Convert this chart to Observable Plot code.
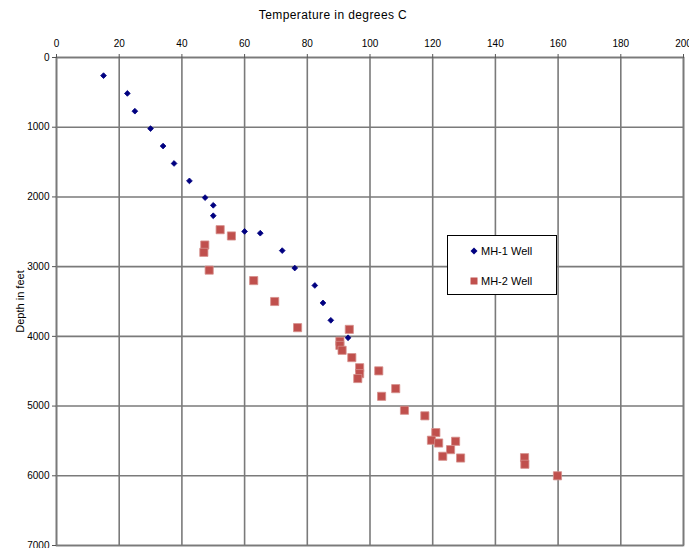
<!DOCTYPE html>
<html>
<head>
<meta charset="utf-8">
<script src="https://cdn.jsdelivr.net/npm/d3@7"></script>
<script src="https://cdn.jsdelivr.net/npm/@observablehq/plot@0.6"></script>
<style>
  html, body { margin: 0; padding: 0; background: #fff; }
  #wrap { position: relative; width: 689px; height: 548px; font-family: "Liberation Sans", Arial, sans-serif; }
  #title { position: absolute; left: 0; width: 666px; top: 8px; text-align: center; font-size: 12px; letter-spacing: 0.4px; color: #000; }
  #legend { position: absolute; left: 447px; top: 235px; width: 108px; height: 58px; border: 1px solid #000; background: #fff; font-size: 11px; color: #000; }
  .item { position: absolute; left: 22px; display: flex; align-items: center; }
  .item svg { margin-right: 3px; }
  svg [aria-label="y-axis label"] text { font-size: 11px; }
</style>
</head>
<body>
<div id="wrap">
  <div id="title">Temperature in degrees C</div>
</div>
<script>
const xTicks = [0, 20, 40, 60, 80, 100, 120, 140, 160, 180, 200];
const yTicks = [0, 1000, 2000, 3000, 4000, 5000, 6000, 7000];

const mh1Temp  = [15, 22.6, 25, 30, 34, 37.5, 42.4, 47.4, 50, 50, 60, 65, 72, 76, 82.4, 85, 87.5, 93];
const mh1Depth = [260, 515, 770, 1020, 1270, 1520, 1770, 2010, 2120, 2270, 2495, 2520, 2770, 3020, 3270, 3520, 3770, 4020];

const mh2Temp  = [52.2, 55.8, 47.3, 47, 48.7, 62.9, 69.6, 76.9, 93.4, 90.4, 90.4, 91.1, 94.2, 96.7, 96.7, 96.1, 102.8, 108.2, 103.7, 111, 117.5, 121, 119.6, 121.9, 127.3, 125.7, 123.2, 128.9, 149.3, 149.4, 159.8];
const mh2Depth = [2470, 2560, 2690, 2795, 3050, 3200, 3500, 3875, 3900, 4070, 4130, 4200, 4305, 4450, 4535, 4605, 4495, 4750, 4860, 5060, 5140, 5380, 5490, 5530, 5505, 5625, 5720, 5745, 5740, 5835, 6000];

const seriesNames = ["MH-1 Well", "MH-2 Well"];
const seriesColors = ["#000080", "#c0504d"];

const mh1 = mh1Temp.map((t, i) => ({temp: t, depth: mh1Depth[i]}));
const mh2 = mh2Temp.map((t, i) => ({temp: t, depth: mh2Depth[i]}));

const chart = Plot.plot({
  width: 689,
  height: 548,
  marginLeft: 56,
  marginRight: 6,
  marginTop: 57,
  marginBottom: 3,
  style: {fontFamily: "Liberation Sans, Arial, sans-serif", fontSize: "10px", background: "transparent"},
  x: {domain: [0, 200]},
  y: {domain: [0, 7000], reverse: true},
  marks: [
    Plot.gridX(xTicks, {stroke: "#7a7a7a", strokeOpacity: 1, strokeWidth: 1.6}),
    Plot.gridY(yTicks, {stroke: "#7a7a7a", strokeOpacity: 1, strokeWidth: 1.6}),
    Plot.frame({stroke: "#7a7a7a", strokeWidth: 1.6}),
    Plot.axisX(xTicks, {anchor: "top", tickSize: 4, tickPadding: 7, label: null, stroke: "#555"}),
    Plot.axisY(yTicks, {anchor: "left", tickSize: 4, tickPadding: 3, tickFormat: d => String(d), label: "Depth in feet", labelAnchor: "center", labelArrow: "none", labelOffset: 40, stroke: "#555"}),
    Plot.dot(mh2, {x: "temp", y: "depth", symbol: "square", r: 4.6, fill: seriesColors[1], stroke: "#d68f8c", strokeWidth: 0.8}),
    Plot.dot(mh1, {x: "temp", y: "depth", symbol: "diamond2", r: 2.6, fill: seriesColors[0], stroke: seriesColors[0], strokeWidth: 0.8})
  ]
});
document.getElementById("wrap").appendChild(chart);

// legend (overlay box inside plot area)
const legend = document.createElement("div");
legend.id = "legend";
const items = [
  {name: seriesNames[0], color: seriesColors[0], shape: "diamond", top: 9},
  {name: seriesNames[1], color: seriesColors[1], shape: "square", top: 39}
];
items.forEach(it => {
  const d = document.createElement("div");
  d.className = "item";
  d.style.top = it.top + "px";
  const sym = it.shape === "diamond"
    ? `<svg width="8" height="8"><polygon points="4,0.5 7.5,4 4,7.5 0.5,4" fill="${it.color}"/></svg>`
    : `<svg width="8" height="8"><rect x="0.5" y="0.5" width="7" height="7" fill="${it.color}"/></svg>`;
  d.innerHTML = sym + `<span>${it.name}</span>`;
  legend.appendChild(d);
});
document.getElementById("wrap").appendChild(legend);
chart.style.position = "absolute";
chart.style.left = "0";
chart.style.top = "0";
</script>
</body>
</html>
